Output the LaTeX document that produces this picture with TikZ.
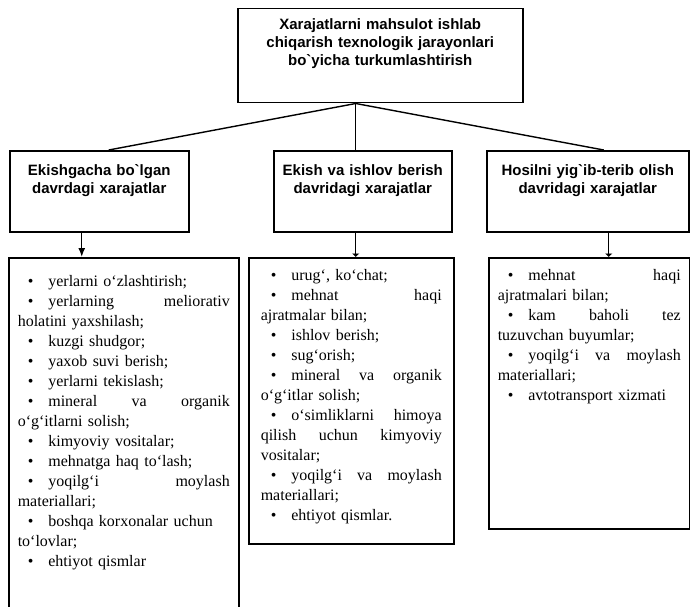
\documentclass[tikz,border=0pt]{standalone}
\usepackage{fontspec}
\setmainfont{Liberation Serif}
\newfontfamily\hdrfont{Liberation Sans}
\usepackage{tikz}
\usetikzlibrary{arrows.meta}
\tikzstyle{hdrBox} = [draw, rectangle, anchor=north west, line width=1.5pt,
   inner xsep=4pt, inner ysep=4pt, align=center,
   font=\hdrfont\bfseries\fontsize{15}{18}\selectfont]
\tikzstyle{listBox} = [draw, rectangle, anchor=north west, line width=1.5pt,
   inner ysep=4pt, align=left, font=\fontsize{16}{20}\selectfont]
\tikzstyle{link} = [line width=1.4pt]
\tikzstyle{bigTip} = [-{Latex[length=9pt,width=7pt]}]
\tikzstyle{smallTip} = [-{Latex[length=3.5pt,width=8pt]}]
\newcommand{\itm}{\hspace*{10pt}\textbullet\hspace{15pt}}

\begin{document}
\begin{tikzpicture}[x=1pt, y=-1pt]
  \useasboundingbox (0,0) rectangle (690,607);
  \clip (0,0) rectangle (690,607);

  % headers
  \node[hdrBox, text width=277pt, text height=17pt, text depth=69pt] (top) at (237,8)
    {Xarajatlarni mahsulot ishlab\\ chiqarish texnologik jarayonlari\\ bo`yicha turkumlashtirish};
  \node[hdrBox, text width=171pt, text height=21pt, text depth=52pt] (a) at (9,150)
    {Ekishgacha bo`lgan\\ davrdagi xarajatlar};
  \node[hdrBox, text width=170pt, text height=21pt, text depth=52pt] (b) at (273,150)
    {Ekish va ishlov berish\\ davridagi xarajatlar};
  \node[hdrBox, text width=194pt, text height=21pt, text depth=52pt] (c) at (486,150)
    {Hosilni yig`ib-terib olish\\ davridagi xarajatlar};

  % lists
  \node[listBox, inner xsep=9pt, text width=212pt, text height=25pt, text depth=330pt] (a1) at (8,257)
    {\itm yerlarni o`zlashtirish;\\
     \itm yerlarning \hfill meliorativ\\ holatini yaxshilash;\\
     \itm kuzgi shudgor;\\
     \itm yaxob suvi berish;\\
     \itm yerlarni tekislash;\\
     \itm mineral \hfill va \hfill organik\\ o`g`itlarni solish;\\
     \itm kimyoviy vositalar;\\
     \itm mehnatga haq to`lash;\\
     \itm yoqilg`i \hfill moylash\\ materiallari;\\
     \itm boshqa korxonalar uchun\\ to`lovlar;\\
     \itm ehtiyot qismlar};
  \node[listBox, inner xsep=12pt, text width=181pt, text height=19pt, text depth=259pt] (b1) at (248,257)
    {\itm urug`, ko`chat;\\
     \itm mehnat \hfill haqi\\ ajratmalar bilan;\\
     \itm ishlov berish;\\
     \itm sug`orish;\\
     \itm mineral \hfill va \hfill organik\\ o`g`itlar solish;\\
     \itm o`simliklarni \hfill himoya\\ qilish \hfill uchun \hfill kimyoviy\\ vositalar;\\
     \itm yoqilg`i \hfill va \hfill moylash\\ materiallari;\\
     \itm ehtiyot qismlar.};
  \node[listBox, inner xsep=9pt, text width=183pt, text height=19pt, text depth=244pt] (c1) at (488,257)
    {\itm mehnat \hfill haqi\\ ajratmalari bilan;\\
     \itm kam \hfill baholi \hfill tez\\ tuzuvchan buyumlar;\\
     \itm yoqilg`i \hfill va \hfill moylash\\ materiallari;\\
     \itm avtotransport xizmati};

  % branches from the top box
  \coordinate (hub) at ([xshift=-24.5pt]top.south);
  \draw[link] (hub) -- ([xshift=9.5pt]a.north);
  \draw[link] (hub) -- ([xshift=-7pt]b.north);
  \draw[link] (hub) -- ([xshift=16pt]c.north);

  % down to the lists
  \draw[link, bigTip] ([xshift=-17.5pt]a.south) -- ([xshift=-17.5pt]a.south |- a1.north);
  \draw[link, smallTip] ([xshift=-7pt]b.south) -- ([xshift=-7pt]b.south |- b1.north);
  \draw[link, smallTip] ([xshift=21pt]c.south) -- ([xshift=21pt]c.south |- c1.north);
\end{tikzpicture}
\end{document}
